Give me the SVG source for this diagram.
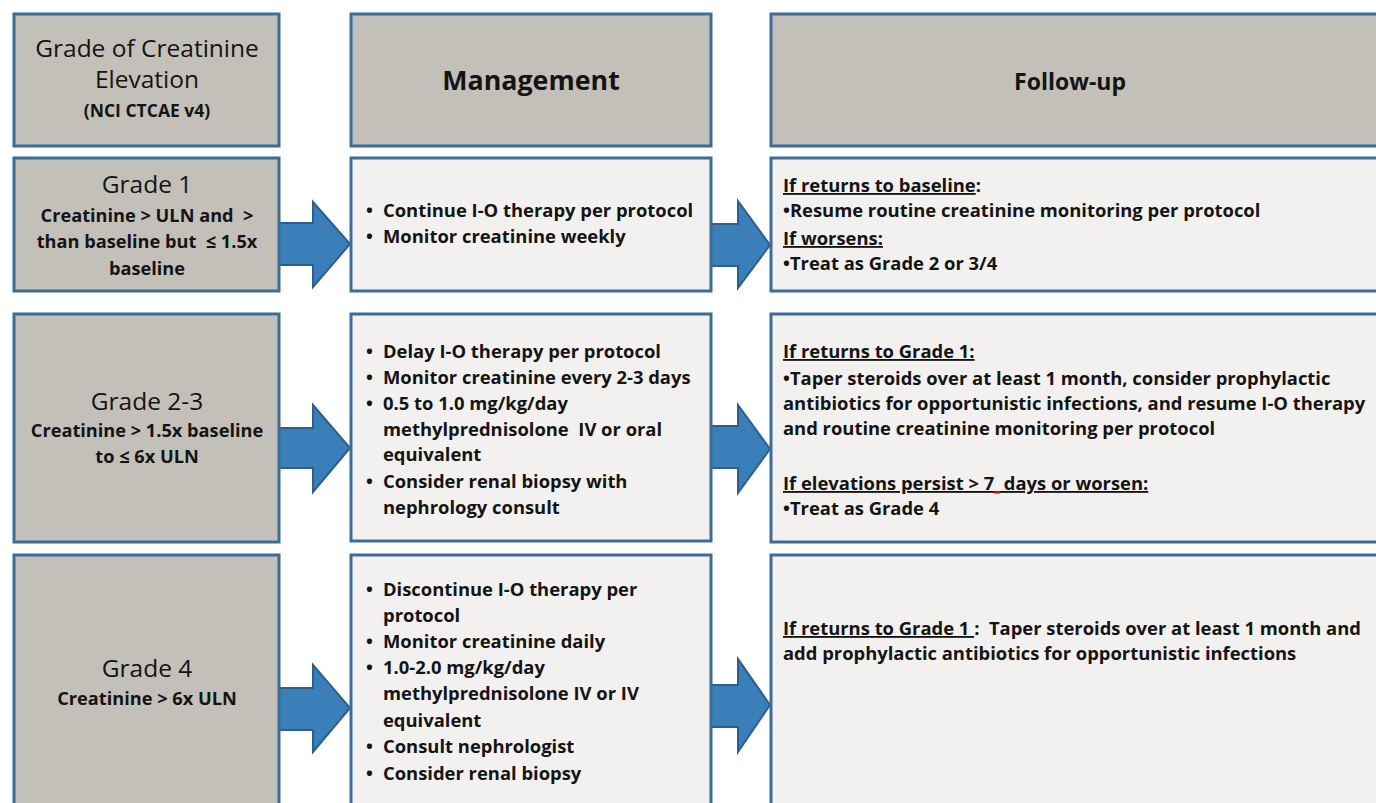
<svg xmlns="http://www.w3.org/2000/svg" width="1376" height="803" viewBox="0 0 1376 803">
<style>
.hdr{fill:#c3c0b9;stroke:#3c6d97;stroke-width:3}
.lt{fill:#f2f1ef;stroke:#3c6d97;stroke-width:3}
.arr{fill:#3a7fba;stroke:#2d5f8b;stroke-width:2}
text{font-family:"Open Sans","Liberation Sans",Arial,sans-serif;fill:#141414}
.big{font-size:24.5px;text-anchor:middle}
.title{font-size:26.8px;font-weight:bold;text-anchor:middle}
.title2{font-size:23px;font-weight:bold;text-anchor:middle}
.sub{font-size:18.2px;font-weight:bold;text-anchor:middle}
.small{font-size:17.5px;font-weight:bold;text-anchor:middle}
.m{font-size:18.4px;font-weight:bold}
.f{font-size:18.4px;font-weight:bold}
.u{text-decoration:underline}
</style>
<rect width="1376" height="803" fill="#ffffff"/>
<g id="connectors">
<path class="arr" d="M279,223 H313 V202 L350,244 L313,287 V265 H279 Z"/>
<path class="arr" d="M711,224 H738 V201 L770,245 L738,288 V266 H711 Z"/>
<path class="arr" d="M279,428 H313 V405 L350,448 L313,492 V468 H279 Z"/>
<path class="arr" d="M711,426 H738 V405 L770,449 L738,493 V468 H711 Z"/>
<path class="arr" d="M279,688 H313 V665 L350,708 L313,752 V730 H279 Z"/>
<path class="arr" d="M711,685 H738 V659 L770,705 L738,752 V727 H711 Z"/>
</g>
<g id="header-grade">
<rect class="hdr" x="14" y="14" width="265" height="132"/>
<text class="big" x="147" y="57">Grade of Creatinine</text>
<text class="big" x="147" y="88">Elevation</text>
<text class="small" x="147" y="117">(NCI CTCAE v4)</text>
</g>
<g id="header-management">
<rect class="hdr" x="351" y="14" width="360" height="132"/>
<text class="title" x="531" y="90">Management</text>
</g>
<g id="header-followup">
<rect class="hdr" x="771" y="14" width="640" height="132"/>
<text class="title2" x="1070" y="90">Follow-up</text>
</g>
<g id="grade1">
<rect class="hdr" x="14" y="158" width="265" height="133"/>
<text class="big" x="147" y="193">Grade 1</text>
<text class="sub" x="147" y="222" xml:space="preserve">Creatinine &gt; ULN and  &gt;</text>
<text class="sub" x="147" y="248" xml:space="preserve">than baseline but  ≤ 1.5x</text>
<text class="sub" x="147" y="275">baseline</text>
</g>
<g id="mgmt1">
<rect class="lt" x="351" y="158" width="360" height="133"/>
<text class="m" x="366" y="217">•</text><text class="m" x="383" y="217">Continue I-O therapy per protocol</text>
<text class="m" x="366" y="243">•</text><text class="m" x="383" y="243">Monitor creatinine weekly</text>
</g>
<g id="follow1">
<rect class="lt" x="771" y="158" width="640" height="133"/>
<text class="f" x="783" y="192"><tspan class="u">If returns to baseline</tspan>:</text>
<text class="f" x="783" y="217">•Resume routine creatinine monitoring per protocol</text>
<text class="f" x="783" y="245"><tspan class="u">If worsens:</tspan></text>
<text class="f" x="783" y="270">•Treat as Grade 2 or 3/4</text>
</g>
<g id="grade23">
<rect class="hdr" x="14" y="314" width="265" height="228"/>
<text class="big" x="147" y="410">Grade 2-3</text>
<text class="sub" x="147" y="437">Creatinine &gt; 1.5x baseline</text>
<text class="sub" x="147" y="463">to ≤ 6x ULN</text>
</g>
<g id="mgmt23">
<rect class="lt" x="351" y="314" width="360" height="227"/>
<text class="m" x="366" y="358">•</text><text class="m" x="383" y="358">Delay I-O therapy per protocol</text>
<text class="m" x="366" y="384">•</text><text class="m" x="383" y="384">Monitor creatinine every 2-3 days</text>
<text class="m" x="366" y="410">•</text><text class="m" x="383" y="410">0.5 to 1.0 mg/kg/day</text>
<text class="m" x="383" y="436" xml:space="preserve">methylprednisolone  IV or oral</text>
<text class="m" x="383" y="461">equivalent</text>
<text class="m" x="366" y="488">•</text><text class="m" x="383" y="488">Consider renal biopsy with</text>
<text class="m" x="383" y="514">nephrology consult</text>
</g>
<g id="follow23">
<rect class="lt" x="771" y="314" width="640" height="228"/>
<text class="f" x="783" y="358"><tspan class="u">If returns to Grade 1:</tspan></text>
<text class="f" x="783" y="385">•Taper steroids over at least 1 month, consider prophylactic</text>
<text class="f" x="783" y="410">antibiotics for opportunistic infections, and resume I-O therapy</text>
<text class="f" x="783" y="435">and routine creatinine monitoring per protocol</text>
<text class="f u" x="783" y="490" xml:space="preserve">If elevations persist &gt; 7  days or worsen:</text>
<rect x="994" y="491" width="6" height="2.5" fill="#e00000"/>
<text class="f" x="783" y="515">•Treat as Grade 4</text>
</g>
<g id="grade4">
<rect class="hdr" x="14" y="555" width="265" height="300"/>
<text class="big" x="147" y="677">Grade 4</text>
<text class="sub" x="147" y="705">Creatinine &gt; 6x ULN</text>
</g>
<g id="mgmt4">
<rect class="lt" x="351" y="555" width="360" height="300"/>
<text class="m" x="366" y="596">•</text><text class="m" x="383" y="596">Discontinue I-O therapy per</text>
<text class="m" x="383" y="622">protocol</text>
<text class="m" x="366" y="648">•</text><text class="m" x="383" y="648">Monitor creatinine daily</text>
<text class="m" x="366" y="674">•</text><text class="m" x="383" y="674">1.0-2.0 mg/kg/day</text>
<text class="m" x="383" y="700">methylprednisolone IV or IV</text>
<text class="m" x="383" y="727">equivalent</text>
<text class="m" x="366" y="753">•</text><text class="m" x="383" y="753">Consult nephrologist</text>
<text class="m" x="366" y="780">•</text><text class="m" x="383" y="780">Consider renal biopsy</text>
</g>
<g id="follow4">
<rect class="lt" x="771" y="555" width="640" height="300"/>
<text class="f" x="783" y="635" xml:space="preserve"><tspan class="u">If returns to Grade 1 </tspan>:  Taper steroids over at least 1 month and</text>
<text class="f" x="783" y="660">add prophylactic antibiotics for opportunistic infections</text>
</g>
</svg>
